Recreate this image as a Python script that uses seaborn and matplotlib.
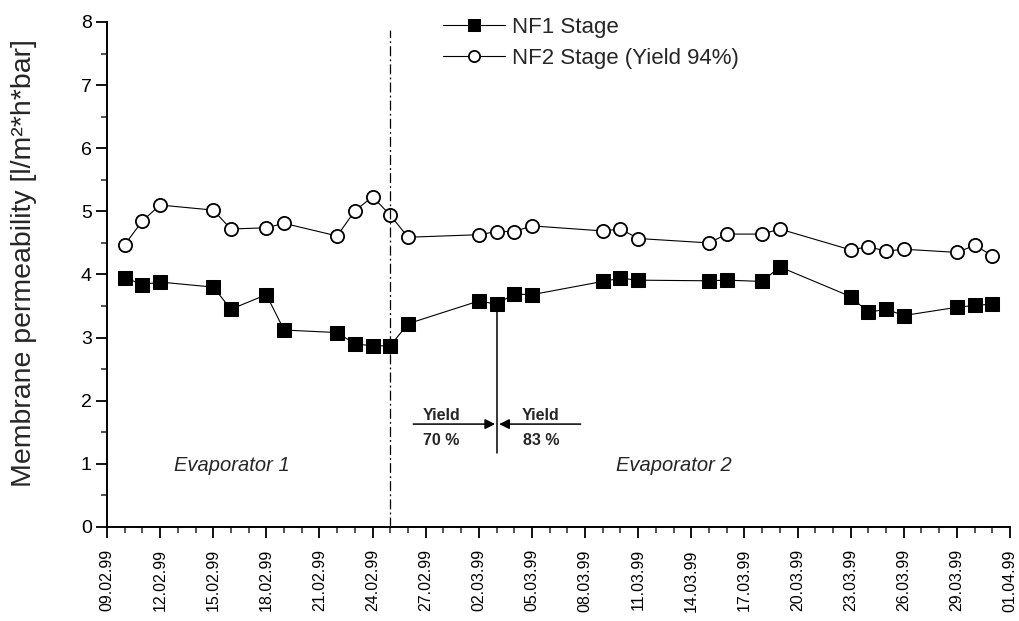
import numpy as np
import pandas as pd
import matplotlib
matplotlib.use("Agg")
import matplotlib.pyplot as plt
import matplotlib.dates as mdates
import seaborn as sns

# ---- data ----
nf1_dates = ["10.02.99", "11.02.99", "12.02.99", "15.02.99", "16.02.99", "18.02.99",
             "19.02.99", "22.02.99", "23.02.99", "24.02.99", "25.02.99", "26.02.99",
             "02.03.99", "03.03.99", "04.03.99", "05.03.99", "09.03.99", "10.03.99",
             "11.03.99", "15.03.99", "16.03.99", "18.03.99", "19.03.99", "23.03.99",
             "24.03.99", "25.03.99", "26.03.99", "29.03.99", "30.03.99", "31.03.99"]
nf1_values = [3.95, 3.84, 3.88, 3.80, 3.45, 3.68, 3.12, 3.08, 2.90, 2.87, 2.87, 3.22,
              3.58, 3.53, 3.69, 3.68, 3.89, 3.94, 3.91, 3.90, 3.91, 3.89, 4.12, 3.65,
              3.40, 3.45, 3.35, 3.48, 3.51, 3.53]

nf2_dates = ["10.02.99", "11.02.99", "12.02.99", "15.02.99", "16.02.99", "18.02.99",
             "19.02.99", "22.02.99", "23.02.99", "24.02.99", "25.02.99", "26.02.99",
             "02.03.99", "03.03.99", "04.03.99", "05.03.99", "09.03.99", "10.03.99",
             "11.03.99", "15.03.99", "16.03.99", "18.03.99", "19.03.99", "23.03.99",
             "24.03.99", "25.03.99", "26.03.99", "29.03.99", "30.03.99", "31.03.99"]
nf2_values = [4.47, 4.85, 5.10, 5.02, 4.72, 4.74, 4.81, 4.61, 5.01, 5.23, 4.94, 4.59,
              4.63, 4.68, 4.68, 4.77, 4.69, 4.72, 4.57, 4.50, 4.64, 4.64, 4.72, 4.39,
              4.44, 4.37, 4.40, 4.35, 4.46, 4.30]

tick_labels = ["09.02.99", "12.02.99", "15.02.99", "18.02.99", "21.02.99", "24.02.99",
               "27.02.99", "02.03.99", "05.03.99", "08.03.99", "11.03.99", "14.03.99",
               "17.03.99", "20.03.99", "23.03.99", "26.03.99", "29.03.99", "01.04.99"]

series_names = ["NF1 Stage", "NF2 Stage (Yield 94%)"]
evaporator_switch = "25.02.99"
yield_date = "03.03.99"

fmt = "%d.%m.%y"
df1 = pd.DataFrame({"date": pd.to_datetime(nf1_dates, format=fmt), "value": nf1_values})
df2 = pd.DataFrame({"date": pd.to_datetime(nf2_dates, format=fmt), "value": nf2_values})
ticks = pd.to_datetime(tick_labels, format=fmt)

# ---- style ----
sns.set_style("ticks")
plt.rcParams["font.family"] = ["Liberation Sans", "DejaVu Sans"]

fig = plt.figure(figsize=(10.2, 6.21), dpi=100)
ax = fig.add_axes([0.1049, 0.1514, 0.8853, 0.8132])

sns.lineplot(data=df1, x="date", y="value", ax=ax, color="black", lw=0.8,
             marker="s", markersize=10, markerfacecolor="black",
             markeredgecolor="black", label=series_names[0])
sns.lineplot(data=df2, x="date", y="value", ax=ax, color="black", lw=0.8,
             marker="o", markersize=9.5, markerfacecolor="white",
             markeredgecolor="black", markeredgewidth=1.3, label=series_names[1])

ax.set_xlim(ticks[0], ticks[-1])
ax.set_ylim(0, 8)
ax.set_xticks(ticks)
ax.set_xticklabels(tick_labels, rotation=90, fontsize=11.5)
ax.xaxis.set_minor_locator(mdates.DayLocator())
ax.set_yticks(range(0, 9))
ax.set_yticks(np.arange(0.5, 8, 1.0), minor=True)
ax.tick_params(axis="y", labelsize=14, length=8, width=1.3, pad=3, direction="out", colors="black")
ax.tick_params(axis="x", length=8, width=1.3, pad=8, direction="out", colors="black")
ax.tick_params(which="minor", length=4.5, width=1.1)
ax.set_xlabel("")
ax.set_ylabel("Membrane permeability [l/m²*h*bar]", fontsize=20.5)
ax.yaxis.set_label_coords(-0.078, 0.523)
for s in ["top", "right"]:
    ax.spines[s].set_visible(False)
for s in ["left", "bottom"]:
    ax.spines[s].set_linewidth(1.4)
    ax.spines[s].set_color("black")

# evaporator switch line
sw = pd.to_datetime(evaporator_switch, format=fmt)
ax.axvline(sw, ymin=0, ymax=7.87 / 8, color="black", lw=0.9, dashes=(8, 2.5, 1.5, 2.5))

# yield annotation
yd = mdates.date2num(pd.to_datetime(yield_date, format=fmt))
ax.plot([yd, yd], [1.17, 3.45], color="black", lw=1.1)
ax.annotate("", xy=(yd - 0.08, 1.63), xytext=(yd - 4.7, 1.63),
            arrowprops=dict(arrowstyle="-|>", color="black", lw=1.1, mutation_scale=15,
                            shrinkA=0, shrinkB=0))
ax.annotate("", xy=(yd + 0.15, 1.63), xytext=(yd + 4.75, 1.63),
            arrowprops=dict(arrowstyle="-|>", color="black", lw=1.1, mutation_scale=15,
                            shrinkA=0, shrinkB=0))
for dx, pct in [(-3.1, "70 %"), (2.5, "83 %")]:
    ax.text(yd + dx, 1.76, "Yield", ha="center", va="center", fontsize=11.5, fontweight="bold")
    ax.text(yd + dx, 1.37, pct, ha="center", va="center", fontsize=11.5, fontweight="bold")

x0 = mdates.date2num(ticks[0])
ax.text(x0 + 7.06, 0.98, "Evaporator 1", ha="center", va="center", fontsize=14.5, style="italic")
ax.text(x0 + 32.0, 0.98, "Evaporator 2", ha="center", va="center", fontsize=14.5, style="italic")

leg = ax.legend(loc="upper left", bbox_to_anchor=(0.362, 1.027), frameon=False,
                fontsize=16, handlelength=2.8, handletextpad=0.3, labelspacing=0.42,
                borderaxespad=0, markerscale=0.85)

fig.savefig("out.png", dpi=100)
